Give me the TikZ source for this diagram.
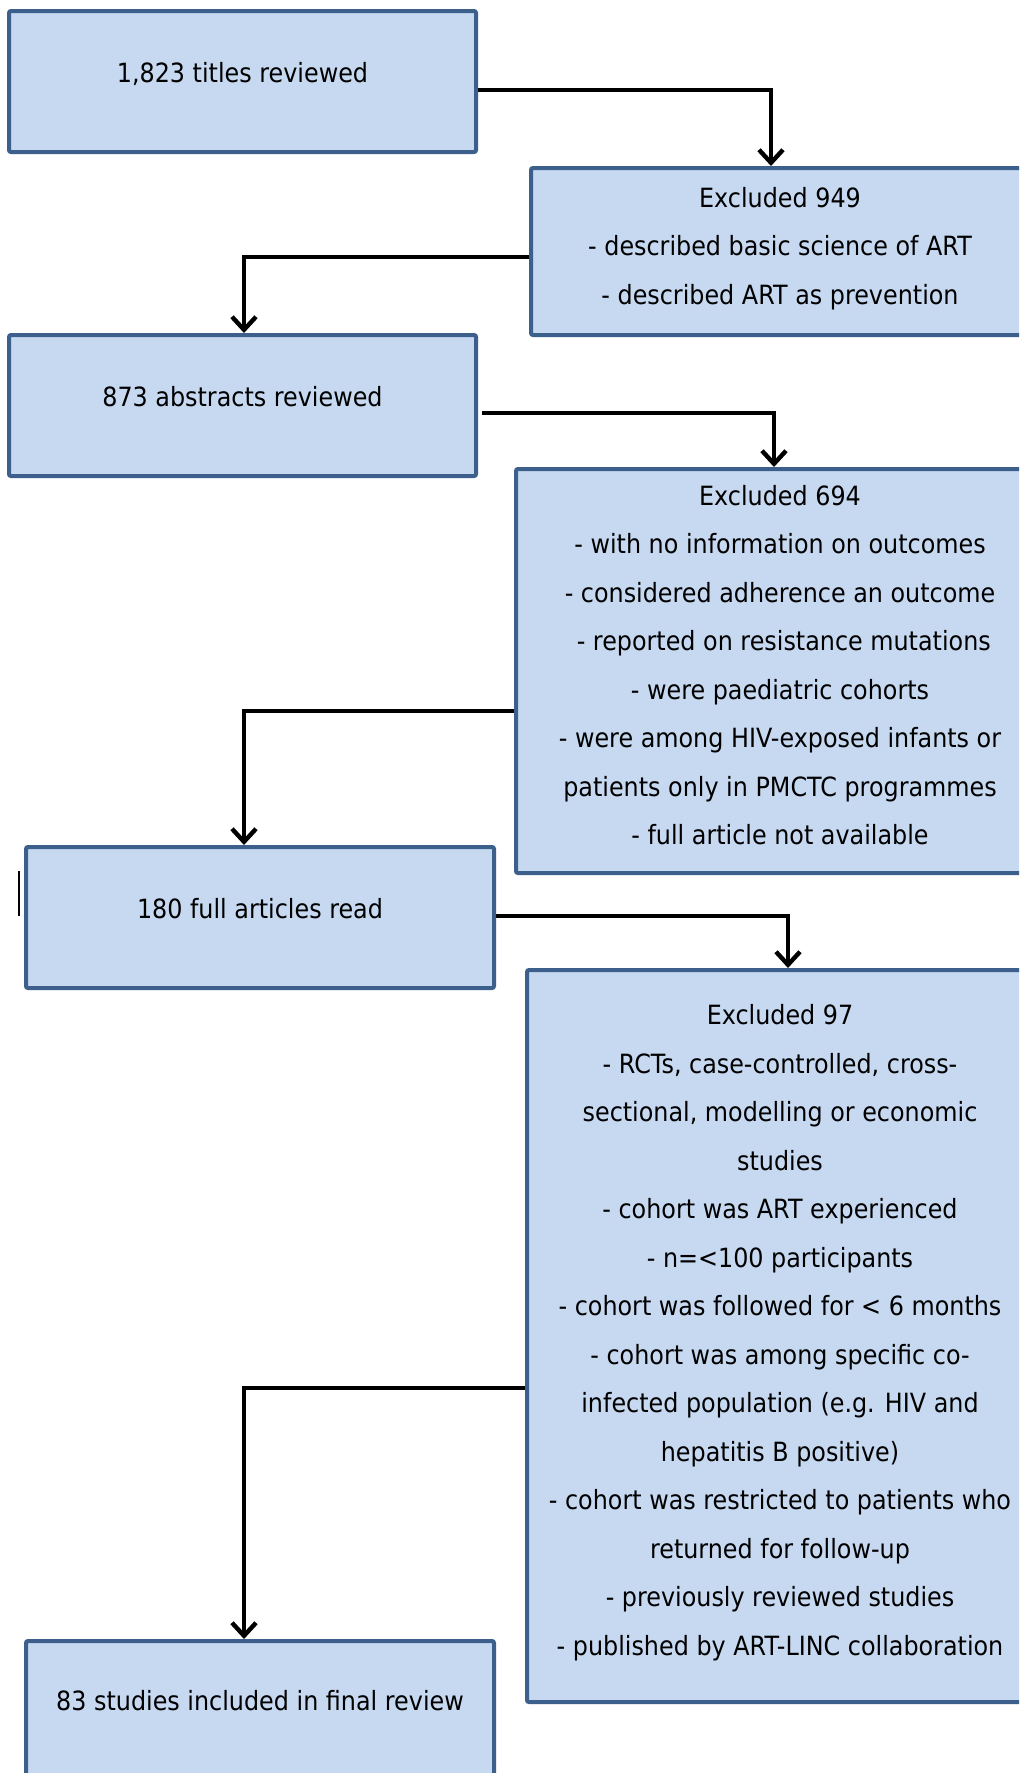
\documentclass[tikz,border=0pt]{standalone}
\usepackage{fontspec}
\setmainfont{DejaVu Sans}[FakeStretch=0.9]
\usetikzlibrary{arrows.meta,calc}
\definecolor{boxfill}{RGB}{198,217,241}
\definecolor{boxedge}{RGB}{60,95,140}
\tikzset{
  flowbox/.style={draw=boxedge, fill=boxfill, line width=2pt, rounded corners=1pt,
    inner sep=0pt, align=center, font=\fontsize{13.25}{24.25}\selectfont},
  onebox/.style={flowbox, text depth=9.5pt},
  manybox/.style={flowbox, text depth=6pt},
  arr/.style={draw=black, line width=2.2pt, -{Straight Barb[length=6.5pt,width=12pt,line width=2.2pt]}}
}
\begin{document}
\begin{tikzpicture}[x=0.5pt,y=-0.5pt]
\clip (0,0) rectangle (1019,1773);
\fill[white] (0,0) rectangle (1019,1773);

\node[onebox, minimum width=233.5pt, minimum height=70.5pt] (b1) at (242.5,81.5) {1,823 titles reviewed};
\node[manybox, minimum width=249pt, minimum height=83.5pt] (b2) at (780,251.5) {Excluded 949\\- described basic science of ART\\- described ART as prevention};
\node[onebox, minimum width=233.5pt, minimum height=70.5pt] (b3) at (242.5,405.5) {873 abstracts reviewed};
\node[manybox, minimum width=264pt, minimum height=202pt] (b4) at (780,671) {Excluded 694\\- with no information on outcomes\\- considered adherence an outcome\\\ - reported on resistance mutations\\- were paediatric cohorts\\- were among HIV-exposed infants or\\patients only in PMCTC programmes\\- full article not available};
\node[onebox, minimum width=234pt, minimum height=70.5pt] (b5) at (260,917.5) {180 full articles read};
\node[manybox, minimum width=253pt, minimum height=366pt] (b6) at (780,1336) {Excluded 97\\- RCTs, case-controlled, cross-\\sectional, modelling or economic\\studies\\- cohort was ART experienced\\- n=<100 participants\\- cohort was followed for < 6 months\\- cohort was among specific co-\\infected population (e.g. HIV and\\hepatitis B positive)\\- cohort was restricted to patients who\\returned for follow-up\\- previously reviewed studies\\- published by ART-LINC collaboration};
\node[flowbox, text depth=17pt, minimum width=234pt, minimum height=76pt] (b7) at (260,1717) {83 studies included in final review};

% stray cursor mark
\draw[line width=0.8pt] (19,871) -- (19,916);

% connectors
\draw[arr] ($(b1.east)+(0,8.5)$) -| ($(b2.north)+(-9,0)$);
\draw[arr] ($(b2.west)+(0,5.5)$) -| ($(b3.north)+(1.5,0)$);
\draw[arr] ($(b3.east)+(4,7.5)$) -| ($(b4.north)+(-6,0)$);
\draw[arr] ($(b4.west)+(0,40)$) -| ($(b5.north)+(-16,0)$);
\draw[arr] ($(b5.east)+(0,-1.5)$) -| ($(b6.north)+(8,0)$);
\draw[arr] ($(b6.west)+(0,52)$) -| ($(b7.north)+(-16,0)$);
\end{tikzpicture}
\end{document}
